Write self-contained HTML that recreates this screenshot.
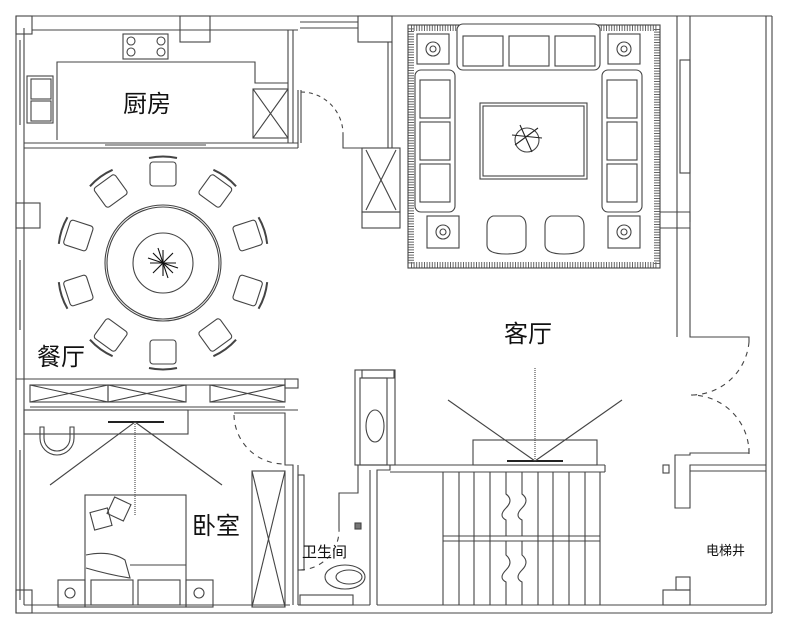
<!DOCTYPE html>
<html><head><meta charset="utf-8"><style>
html,body{margin:0;padding:0;background:#fff;width:789px;height:631px;overflow:hidden}
svg{display:block}
text{font-family:"Liberation Sans","Noto Sans CJK SC",sans-serif;fill:#111}
</style></head><body>
<svg width="789" height="631" viewBox="0 0 789 631" fill="none" stroke="#444" stroke-width="1.1">
<!-- outer walls -->
<line x1="16" y1="16" x2="772" y2="16"/>
<line x1="16" y1="16" x2="16" y2="613"/>
<line x1="16" y1="613" x2="772" y2="613"/>
<line x1="772" y1="16" x2="772" y2="613"/>
<line x1="766" y1="16" x2="766" y2="605"/>
<line x1="24" y1="28" x2="24" y2="605"/>
<line x1="20" y1="40" x2="20" y2="125" />
<line x1="20" y1="260" x2="20" y2="330" />
<line x1="20" y1="450" x2="20" y2="600" />
<line x1="32" y1="30" x2="298" y2="30"/>
<line x1="24" y1="605" x2="290" y2="605"/>
<line x1="298" y1="605" x2="370" y2="605"/>
<line x1="377" y1="605" x2="766" y2="605"/>
<rect x="16" y="16" width="16" height="18"/>
<rect x="16" y="203" width="24" height="25"/>
<rect x="16" y="590" width="16" height="23"/>
<!-- kitchen -->
<rect x="180" y="16" width="30" height="26"/>
<line x1="300" y1="22" x2="358" y2="22"/><line x1="300" y1="28" x2="358" y2="28"/>
<rect x="358" y="16" width="34" height="26"/>
<line x1="288" y1="30" x2="288" y2="143"/>
<line x1="293" y1="30" x2="293" y2="143"/>
<line x1="298" y1="90" x2="298" y2="148"/><line x1="301" y1="90" x2="301" y2="143"/>
<line x1="24" y1="143" x2="298" y2="143"/>
<line x1="24" y1="148" x2="298" y2="148"/>
<line x1="105" y1="145" x2="206" y2="145"/>
<polyline points="57,140 57,62 255,62 255,83 288,83"/>
<rect x="123" y="34" width="45" height="25"/>
<circle cx="131" cy="41" r="4"/><circle cx="161" cy="41" r="4"/><circle cx="131" cy="52" r="4"/><circle cx="161" cy="52" r="4"/>
<rect x="27" y="76" width="26" height="47"/>
<rect x="31" y="79" width="20" height="20"/><rect x="31" y="101" width="20" height="20"/>
<rect x="253" y="89" width="35" height="49"/>
<line x1="253" y1="89" x2="288" y2="138"/><line x1="288" y1="89" x2="253" y2="138"/>
<path d="M301 92 A 42 42 0 0 1 343 134" stroke-dasharray="4 4"/>
<polyline points="343,134 343,148 388,148 388,42"/>
<line x1="392" y1="42" x2="392" y2="148"/>
<rect x="362" y="148" width="38" height="64"/>
<line x1="366" y1="150" x2="396" y2="210"/><line x1="396" y1="150" x2="366" y2="210"/>
<rect x="362" y="212" width="38" height="16"/>
<!-- living rug -->
<rect x="411" y="28" width="246" height="237" stroke-width="6" stroke-dasharray="1 1.6" stroke="#666"/>
<rect x="408" y="25" width="252" height="243"/>
<rect x="414" y="33" width="240" height="227" stroke="#fff" stroke-width="0"/>
<rect x="480" y="103" width="107" height="76"/><rect x="483" y="106" width="101" height="70"/>
<circle cx="527" cy="140" r="12"/>
<g stroke="#222"><line x1="512" y1="135" x2="542" y2="138"/><line x1="520" y1="125" x2="532" y2="152"/><line x1="515" y1="145" x2="538" y2="128"/></g>
<g fill="#fff">
<rect x="417" y="34" width="32" height="30"/><circle cx="433" cy="49" r="7"/><circle cx="433" cy="49" r="3"/>
<rect x="608" y="34" width="32" height="30"/><circle cx="624" cy="49" r="7"/><circle cx="624" cy="49" r="3"/>
<rect x="427" y="216" width="32" height="32"/><circle cx="443" cy="232" r="7"/><circle cx="443" cy="232" r="3"/>
<rect x="608" y="216" width="32" height="32"/><circle cx="624" cy="232" r="7"/><circle cx="624" cy="232" r="3"/>
<rect x="457" y="24" width="143" height="46" rx="6"/>
<rect x="415" y="70" width="40" height="142" rx="6"/>
<rect x="602" y="70" width="40" height="142" rx="6"/>
</g>
<rect x="463" y="36" width="40" height="30"/><rect x="509" y="36" width="40" height="30"/><rect x="555" y="36" width="40" height="30"/>
<rect x="420" y="80" width="30" height="38"/><rect x="420" y="122" width="30" height="38"/><rect x="420" y="164" width="30" height="38"/>
<rect x="607" y="80" width="30" height="38"/><rect x="607" y="122" width="30" height="38"/><rect x="607" y="164" width="30" height="38"/>
<path d="M487 226 Q487 218 493 216 L520 216 Q526 218 526 226 L526 245 Q526 254 506 254 Q487 254 487 245 Z" fill="#fff"/>
<path d="M545 226 Q545 218 551 216 L578 216 Q584 218 584 226 L584 245 Q584 254 564 254 Q545 254 545 245 Z" fill="#fff"/>
<!-- right wall -->
<line x1="677" y1="16" x2="677" y2="337"/>
<line x1="690" y1="16" x2="690" y2="222"/>
<rect x="680" y="60" width="10" height="113"/>
<polyline points="660,212 690,212 690,228 660,228"/>
<polyline points="690,228 690,337 749,337 749,342"/>
<path d="M749 342 A 58 58 0 0 1 691 395" stroke-dasharray="5 5"/>
<path d="M749 454 A 58 58 0 0 0 691 395" stroke-dasharray="5 5"/>
<polyline points="749,448 749,453 690,453 690,455 675,455 675,508 690,508 690,465 766,465"/>
<line x1="690" y1="471" x2="766" y2="471"/>
<rect x="663" y="465" width="6" height="8"/>
<rect x="676" y="577" width="14" height="13"/><rect x="663" y="590" width="27" height="15"/>
<!-- dining -->
<circle cx="163" cy="263" r="58"/><circle cx="163" cy="263" r="56"/>
<circle cx="163" cy="263" r="30"/>
<g stroke="#111">
<line x1="150" y1="263" x2="176" y2="263"/><line x1="163" y1="250" x2="163" y2="276"/>
<line x1="153" y1="253" x2="173" y2="273"/><line x1="173" y1="253" x2="153" y2="273"/>
<line x1="148" y1="258" x2="178" y2="268"/><line x1="158" y1="248" x2="168" y2="278"/>
</g>
<g id="ch">
<rect x="-13" y="-13" width="26" height="24" rx="3" transform="translate(163,263) translate(0,-88)"/>
<path d="M-14 -17 Q0 -20 14 -17" transform="translate(163,263) translate(0,-88)" stroke-width="2"/>
</g>
<use href="#ch" transform="rotate(36 163 263)"/>
<use href="#ch" transform="rotate(72 163 263)"/>
<use href="#ch" transform="rotate(108 163 263)"/>
<use href="#ch" transform="rotate(144 163 263)"/>
<use href="#ch" transform="rotate(180 163 263)"/>
<use href="#ch" transform="rotate(216 163 263)"/>
<use href="#ch" transform="rotate(252 163 263)"/>
<use href="#ch" transform="rotate(288 163 263)"/>
<use href="#ch" transform="rotate(324 163 263)"/>
<!-- bedroom top cabinet wall -->
<line x1="16" y1="379" x2="298" y2="379"/>
<line x1="30" y1="385" x2="285" y2="385"/>
<line x1="30" y1="407" x2="285" y2="407"/>
<line x1="24" y1="410" x2="298" y2="410"/>
<rect x="285" y="379" width="13" height="9"/>
<rect x="30" y="385" width="78" height="17"/><line x1="30" y1="385" x2="108" y2="402"/><line x1="108" y1="385" x2="30" y2="402"/>
<rect x="108" y="385" width="78" height="17"/><line x1="108" y1="385" x2="186" y2="402"/><line x1="186" y1="385" x2="108" y2="402"/>
<rect x="210" y="385" width="75" height="17"/><line x1="210" y1="385" x2="285" y2="402"/><line x1="285" y1="385" x2="210" y2="402"/>
<rect x="24" y="410" width="164" height="24"/>
<line x1="108" y1="422" x2="164" y2="422" stroke="#222" stroke-width="2"/>
<line x1="135" y1="422" x2="50" y2="485"/><line x1="135" y1="422" x2="222" y2="485"/><line x1="135" y1="422" x2="135" y2="515" stroke-dasharray="1 1"/>
<path d="M40 427 L40 438 A 17 17 0 0 0 74 438 L74 427 L70 427 L70 438 A 13 13 0 0 1 44 438 L44 427 Z"/>
<polyline points="234,413 285,413 285,465 293,465 293,605"/>
<line x1="298" y1="465" x2="298" y2="605"/>
<path d="M234 415 A 50 50 0 0 0 283 464" stroke-dasharray="5 5"/>
<rect x="252" y="471" width="33" height="136"/>
<line x1="252" y1="471" x2="285" y2="607"/><line x1="285" y1="471" x2="252" y2="607"/>
<rect x="85" y="495" width="101" height="112"/>
<line x1="130" y1="565" x2="186" y2="565"/>
<rect x="58" y="580" width="27" height="27"/><circle cx="70" cy="593" r="5"/>
<rect x="186" y="580" width="27" height="27"/><circle cx="199" cy="593" r="5"/>
<rect x="91" y="580" width="42" height="25"/><rect x="138" y="580" width="42" height="25"/>
<path d="M86 555 Q110 550 125 560 L130 578 Q110 575 86 568"/>
<rect x="92" y="510" width="18" height="18" transform="rotate(-15 101 519)"/>
<rect x="110" y="500" width="18" height="18" transform="rotate(25 119 509)"/>
<!-- bathroom -->
<rect x="298" y="475" width="6" height="95"/>
<path d="M300 570 A 40 40 0 0 0 339 528" stroke-dasharray="5 5"/>
<polyline points="339,528 339,493 358,493 358,465 390,465 390,470 377,470 377,605"/>
<line x1="370" y1="470" x2="370" y2="605"/>
<rect x="355" y="370" width="40" height="95"/>
<rect x="360" y="378" width="27" height="87"/>
<rect x="362" y="370" width="32" height="8"/>
<ellipse cx="375" cy="426" rx="9" ry="16"/>
<rect x="355" y="523" width="6" height="6" fill="#777"/>
<ellipse cx="345" cy="577" rx="20" ry="12"/><ellipse cx="349" cy="577" rx="13" ry="7"/>
<rect x="300" y="595" width="53" height="10"/>
<!-- tv / stairs -->
<line x1="390" y1="465" x2="605" y2="465"/><line x1="390" y1="472" x2="605" y2="472"/>
<line x1="605" y1="465" x2="605" y2="472"/>
<rect x="473" y="440" width="124" height="25"/>
<line x1="507" y1="461" x2="563" y2="461" stroke="#222" stroke-width="2"/>
<line x1="535" y1="368" x2="535" y2="461" stroke-dasharray="1 1"/>
<line x1="448" y1="400" x2="535" y2="461"/><line x1="622" y1="400" x2="535" y2="461"/>
<g>
<line x1="443" y1="472" x2="443" y2="605"/><line x1="459" y1="472" x2="459" y2="605"/><line x1="474" y1="472" x2="474" y2="605"/>
<line x1="490" y1="472" x2="490" y2="605"/><line x1="538" y1="472" x2="538" y2="605"/>
<line x1="553" y1="472" x2="553" y2="605"/><line x1="569" y1="472" x2="569" y2="605"/><line x1="585" y1="472" x2="585" y2="605"/>
<line x1="600" y1="472" x2="600" y2="605"/>
<line x1="443" y1="536" x2="600" y2="536"/><line x1="443" y1="541" x2="600" y2="541"/>
<path d="M506 472 V494 Q514 500 506 508 Q498 516 506 520 V536 M506 541 V555 Q514 562 506 570 Q498 578 506 582 V605"/>
<path d="M522 472 V494 Q530 500 522 508 Q514 516 522 520 V536 M522 541 V555 Q530 562 522 570 Q514 578 522 582 V605"/>
</g>
<!-- labels -->
<g stroke="none">
<text x="123" y="112" font-size="24">厨房</text>
<text x="37" y="365" font-size="24">餐厅</text>
<text x="504" y="342" font-size="24">客厅</text>
<text x="192" y="534" font-size="24">卧室</text>
<text x="302" y="557" font-size="15">卫生间</text>
<text x="706" y="555" font-size="13">电梯井</text>
</g>
</svg>
</body></html>
